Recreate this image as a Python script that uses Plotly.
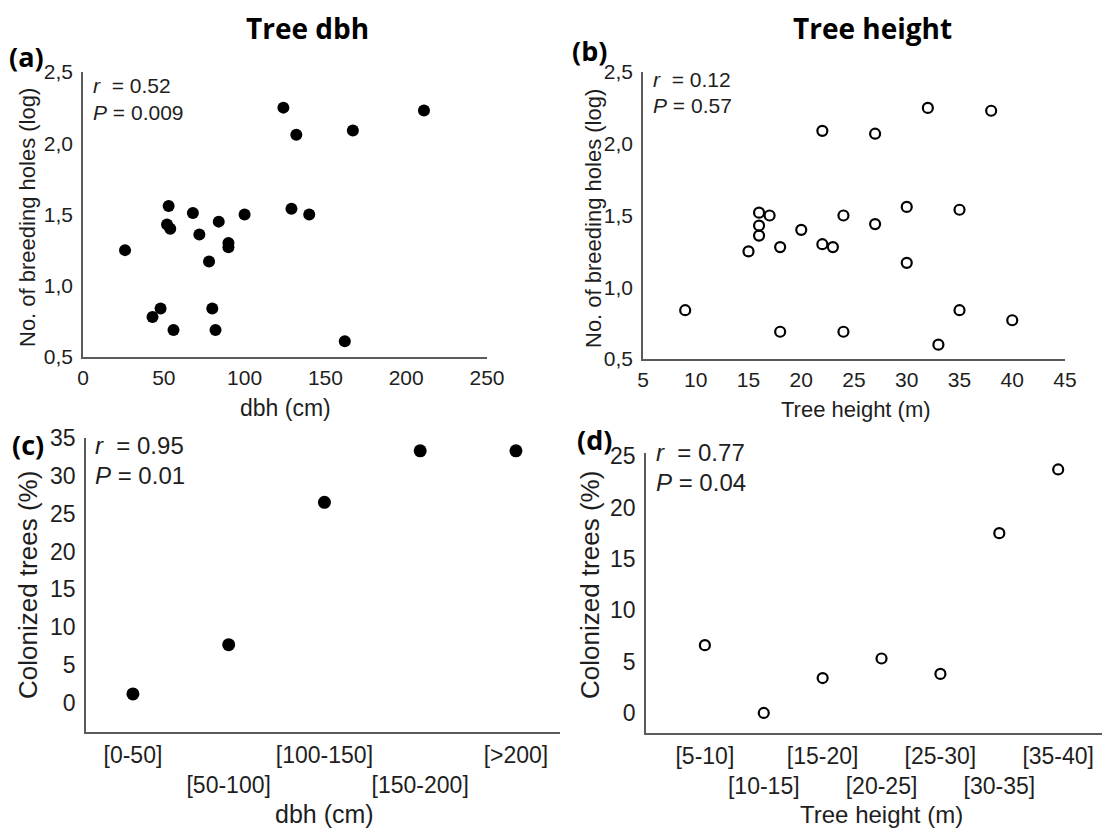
import plotly.graph_objects as go

# ---------------- data ----------------
dbh_cm = [26, 43, 48, 52, 53, 54, 56, 68, 72, 78, 80, 82, 84, 90, 90, 100,
          124, 129, 132, 140, 162, 167, 211]
holes_log_dbh = [1.25, 0.78, 0.84, 1.43, 1.56, 1.40, 0.69, 1.51, 1.36, 1.17, 0.84, 0.69,
                 1.45, 1.30, 1.27, 1.50, 2.25, 1.54, 2.06, 1.50, 0.61, 2.09, 2.23]

height_m = [9, 15, 16, 16, 16, 17, 18, 18, 20, 22, 22, 23, 24, 24, 27, 27,
            30, 30, 32, 33, 35, 35, 38, 40]
holes_log_height = [0.84, 1.25, 1.52, 1.43, 1.36, 1.50, 1.28, 0.69, 1.40, 2.09, 1.30, 1.28,
                    1.50, 0.69, 2.07, 1.44, 1.56, 1.17, 2.25, 0.60, 1.54, 0.84, 2.23, 0.77]

dbh_classes = ["[0-50]", "[50-100]", "[100-150]", "[150-200]", "[>200]"]
colonized_dbh = [1.2, 7.7, 26.5, 33.3, 33.3]

height_classes = ["[5-10]", "[10-15]", "[15-20]", "[20-25]", "[25-30]", "[30-35]", "[35-40]"]
colonized_height = [6.6, 0.0, 3.4, 5.3, 3.8, 17.5, 23.7]

log_ticks = [0.5, 1.0, 1.5, 2.0, 2.5]
log_ticktext = ["0,5", "1,0", "1,5", "2,0", "2,5"]
dbh_ticks = [0, 50, 100, 150, 200, 250]
height_ticks = [5, 10, 15, 20, 25, 30, 35, 40, 45]
pct_ticks_c = [0, 5, 10, 15, 20, 25, 30, 35]
pct_ticks_d = [0, 5, 10, 15, 20, 25]

# ---------------- layout helpers ----------------
W, H = 1110, 829
OFF = 8  # page body margin in the browser
def X(px):
    return (px - OFF) / W
def Y(py):
    return 1 - (py - OFF) / H

FONT = "Liberation Sans, Arial, sans-serif"
TXT = "#1e1e1e"
AXC = "#5a5a5a"

def stagger(labels):
    return [lab if i % 2 == 0 else "<br>" + lab for i, lab in enumerate(labels)]

fig = go.Figure()

fig.add_trace(go.Scatter(x=dbh_cm, y=holes_log_dbh, mode="markers",
                         marker=dict(symbol="circle", size=12, color="black"),
                         xaxis="x", yaxis="y", showlegend=False))
fig.add_trace(go.Scatter(x=height_m, y=holes_log_height, mode="markers",
                         marker=dict(symbol="circle-open", size=10, color="black",
                                     line=dict(width=2.2, color="black")),
                         xaxis="x2", yaxis="y2", showlegend=False))
fig.add_trace(go.Scatter(x=list(range(len(dbh_classes))), y=colonized_dbh, mode="markers",
                         marker=dict(symbol="circle", size=13, color="black"),
                         xaxis="x3", yaxis="y3", showlegend=False))
fig.add_trace(go.Scatter(x=list(range(len(height_classes))), y=colonized_height, mode="markers",
                         marker=dict(symbol="circle-open", size=10, color="black",
                                     line=dict(width=2.2, color="black")),
                         xaxis="x4", yaxis="y4", showlegend=False))

def ax(domain, rng, anchor, size, **kw):
    d = dict(domain=domain, range=rng, anchor=anchor, showline=True, linecolor=AXC,
             linewidth=1.6, showgrid=False, zeroline=False, ticks="", tickangle=0,
             automargin=False,
             tickfont=dict(family=FONT, size=size, color=TXT), fixedrange=True)
    d.update(kw)
    return d

fig.update_layout(
    width=W, height=H, autosize=False,
    margin=dict(l=0, r=0, t=0, b=0, pad=0, autoexpand=False),
    paper_bgcolor="white", plot_bgcolor="white",
    xaxis=ax([X(83), X(487)], [0, 250], "y", 21, tickvals=dbh_ticks, ticklabelstandoff=1),
    yaxis=ax([Y(357), Y(72)], [0.5, 2.5], "x", 21, tickvals=log_ticks,
             ticktext=log_ticktext, ticklabelstandoff=4),
    xaxis2=ax([X(643), X(1065)], [5, 45], "y2", 21, tickvals=height_ticks, ticklabelstandoff=1),
    yaxis2=ax([Y(359), Y(72)], [0.5, 2.5], "x2", 21, tickvals=log_ticks,
              ticktext=log_ticktext, ticklabelstandoff=4),
    xaxis3=ax([X(86), X(560)], [-0.49, 4.46], "y3", 23,
              tickvals=list(range(len(dbh_classes))), ticktext=stagger(dbh_classes),
              ticklabelstandoff=2),
    yaxis3=ax([Y(732), Y(438)], [-3.83, 35], "x3", 23, tickvals=pct_ticks_c,
              ticklabelstandoff=4),
    xaxis4=ax([X(646), X(1110)], [-1.0, 6.88], "y4", 23,
              tickvals=list(range(len(height_classes))), ticktext=stagger(height_classes),
              ticklabelstandoff=2),
    yaxis4=ax([Y(733), Y(453)], [-1.95, 25.3], "x4", 23, tickvals=pct_ticks_d,
              ticklabelstandoff=4),
)

ann = []
def text(x, y, s, size, bold=False, angle=0, xanchor="center", family=FONT):
    ann.append(dict(x=X(x), y=Y(y), xref="paper", yref="paper", text=s, showarrow=False,
                    xanchor=xanchor, yanchor="middle", textangle=angle, borderpad=0,
                    font=dict(family=family, size=size, color="black" if bold else TXT)))

TITLE_FONT = "Open Sans, Noto Sans, sans-serif"
text(307, 28, "<b>Tree dbh</b>", 28, bold=True, family=TITLE_FONT)
text(872, 28, "<b>Tree height</b>", 28, bold=True, family=TITLE_FONT)
text(26, 57, "<b>(a)</b>", 27, bold=True, family=TITLE_FONT)
text(589, 50, "<b>(b)</b>", 27, bold=True, family=TITLE_FONT)
text(28, 444, "<b>(c)</b>", 27, bold=True, family=TITLE_FONT)
text(594, 439, "<b>(d)</b>", 27, bold=True, family=TITLE_FONT)

# statistics
text(92, 86, "<i>r</i>&nbsp; = 0.52", 21, xanchor="left")
text(92, 112, "<i>P</i> = 0.009", 21, xanchor="left")
text(652, 80, "<i>r</i>&nbsp; = 0.12", 21, xanchor="left")
text(652, 106, "<i>P</i> = 0.57", 21, xanchor="left")
text(94, 445, "<i>r</i>&nbsp; = 0.95", 24, xanchor="left")
text(94, 475, "<i>P</i> = 0.01", 24, xanchor="left")
text(655, 452, "<i>r</i>&nbsp; = 0.77", 24, xanchor="left")
text(655, 482, "<i>P</i> = 0.04", 24, xanchor="left")

# axis titles
text(285, 408, "dbh (cm)", 23)
text(856, 409, "Tree height (m)", 22)
text(324, 814, "dbh (cm)", 25)
text(881, 814, "Tree height (m)", 24)
text(27, 218, "No. of breeding holes (log)", 22, angle=-90)
text(593, 218, "No. of breeding holes (log)", 22, angle=-90)
text(28, 585, "Colonized trees (%)", 26, angle=-90)
text(590, 585, "Colonized trees (%)", 26, angle=-90)

fig.update_layout(annotations=ann)
fig.write_html("out.html")
